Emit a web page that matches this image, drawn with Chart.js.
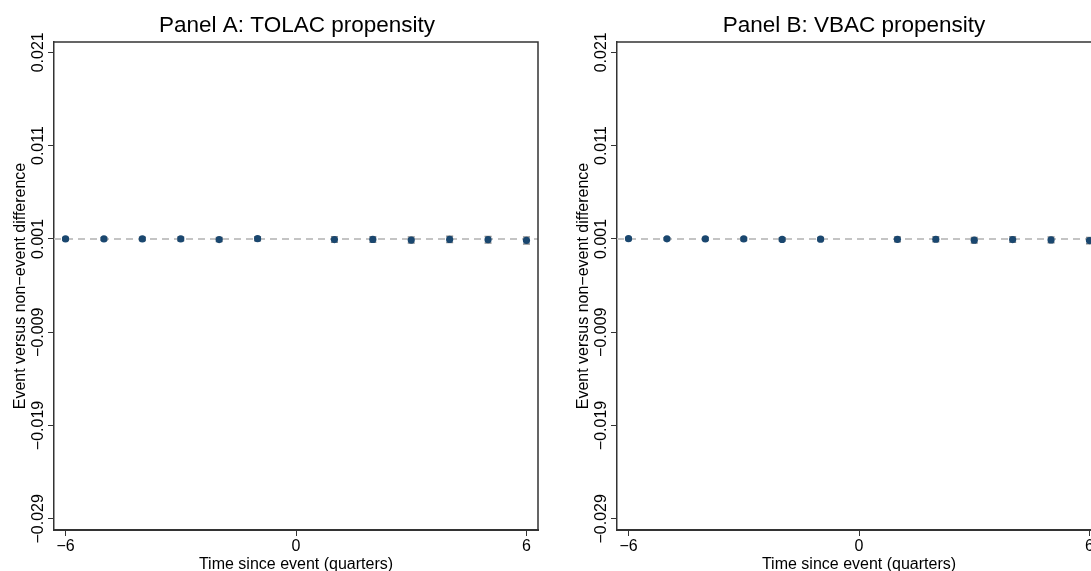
<!DOCTYPE html>
<html>
<head>
<meta charset="utf-8">
<script src="https://cdn.jsdelivr.net/npm/chart.js@4/dist/chart.umd.min.js"></script>
<style>
  html, body { margin: 0; padding: 0; background: #fff; }
  #wrap { position: relative; width: 1091px; height: 571px; overflow: hidden; background: #fff; }
  canvas { position: absolute; top: 0; }
  #panelA { left: 0; }
  #panelB { left: 560px; }
</style>
</head>
<body>
<div id="wrap">
  <canvas id="panelA" width="560" height="571"></canvas>
  <canvas id="panelB" width="560" height="571"></canvas>
</div>
<script>
// quarters relative to the event (0 is left out)
const quarters = [-6, -5, -4, -3, -2, -1, 1, 2, 3, 4, 5, 6];

// Panel A: TOLAC propensity
const tolacEst = [0.00100, 0.00099, 0.00100, 0.00099, 0.00093, 0.00102, 0.00093, 0.00094, 0.00087, 0.00094, 0.00091, 0.00083];
const tolacLo  = [0.00085, 0.00084, 0.00083, 0.00079, 0.00071, 0.00080, 0.00063, 0.00064, 0.00055, 0.00061, 0.00056, 0.00045];
const tolacHi  = [0.00115, 0.00114, 0.00117, 0.00119, 0.00115, 0.00124, 0.00123, 0.00124, 0.00119, 0.00127, 0.00126, 0.00121];

// Panel B: VBAC propensity
const vbacEst = [0.00102, 0.00101, 0.00100, 0.00099, 0.00094, 0.00097, 0.00095, 0.00096, 0.00086, 0.00093, 0.00089, 0.00082];
const vbacLo  = [0.00090, 0.00089, 0.00086, 0.00083, 0.00076, 0.00079, 0.00069, 0.00069, 0.00057, 0.00063, 0.00058, 0.00048];
const vbacHi  = [0.00114, 0.00113, 0.00114, 0.00115, 0.00112, 0.00115, 0.00121, 0.00123, 0.00115, 0.00123, 0.00120, 0.00116];

const yTickValues = [-0.029, -0.019, -0.009, 0.001, 0.011, 0.021];
const xTickValues = [-6, 0, 6];
const refLine = 0.001;

const FONT = "'Liberation Sans', Arial, Helvetica, sans-serif";
const MARKER = "#1a476f";

function minus(s) { return String(s).replace("-", "\u2212"); }

// text, frame, reference line and whiskers drawn around the scatter
const panelDecor = {
  id: "panelDecor",
  beforeDatasetsDraw(chart) {
    const c = chart.ctx, a = chart.chartArea;
    const xs = chart.scales.x, ys = chart.scales.y;
    const cfg = chart.options.plugins.panelDecor;

    // dashed reference line
    const yr = ys.getPixelForValue(refLine);
    c.save();
    c.strokeStyle = "#c4c4c4";
    c.lineWidth = 2;
    c.setLineDash([7, 5]);
    c.beginPath();
    c.moveTo(a.left, yr);
    c.lineTo(a.right, yr);
    c.stroke();
    c.restore();

    // confidence intervals
    c.save();
    c.strokeStyle = "#8c8c8c";
    c.lineWidth = 1.5;
    cfg.lo.forEach((lo, i) => {
      const px = xs.getPixelForValue(quarters[i]);
      const p1 = ys.getPixelForValue(lo);
      const p2 = ys.getPixelForValue(cfg.hi[i]);
      c.beginPath();
      c.moveTo(px, p1); c.lineTo(px, p2);
      c.moveTo(px - 3.5, p1); c.lineTo(px + 3.5, p1);
      c.moveTo(px - 3.5, p2); c.lineTo(px + 3.5, p2);
      c.stroke();
    });
    c.restore();
  },
  afterDraw(chart) {
    const c = chart.ctx, a = chart.chartArea;
    const ys = chart.scales.y;
    const cfg = chart.options.plugins.panelDecor;

    // top and right edges of the plot box
    c.save();
    c.strokeStyle = "#333";
    c.lineWidth = 1.5;
    c.beginPath();
    c.moveTo(a.left, a.top); c.lineTo(a.right, a.top); c.lineTo(a.right, a.bottom);
    c.stroke();
    c.restore();

    c.save();
    c.fillStyle = "#000";

    // panel title
    c.font = "22.5px " + FONT;
    c.textAlign = "center";
    c.textBaseline = "alphabetic";
    c.fillText(cfg.title, cfg.titleX, 32);

    // x axis title
    c.font = "16px " + FONT;
    c.fillText("Time since event (quarters)", (a.left + a.right) / 2, 569);

    // vertical y tick labels
    ys.ticks.forEach(t => {
      const py = ys.getPixelForValue(t.value);
      c.save();
      c.translate(a.left - 11, py);
      c.rotate(-Math.PI / 2);
      c.textAlign = "center";
      c.fillText(minus(t.value.toFixed(3)), 0, 0);
      c.restore();
    });

    // y axis title
    c.save();
    c.translate(a.left - 29, (a.top + a.bottom) / 2);
    c.rotate(-Math.PI / 2);
    c.textAlign = "center";
    c.fillText("Event versus non\u2212event difference", 0, 0);
    c.restore();

    c.restore();
  }
};

function makePanel(id, title, titleX, est, lo, hi, plotLeft, plotRight) {
  const canvas = document.getElementById(id);
  return new Chart(canvas, {
    type: "scatter",
    data: {
      datasets: [{
        data: quarters.map((q, i) => ({ x: q, y: est[i] })),
        backgroundColor: MARKER,
        borderColor: MARKER,
        pointRadius: 3.6,
        pointHoverRadius: 3.6,
        borderWidth: 0
      }]
    },
    options: {
      responsive: false,
      animation: false,
      events: [],
      layout: {
        padding: { top: 42, left: 0, right: canvas.width - plotRight, bottom: 0 }
      },
      plugins: {
        legend: { display: false },
        tooltip: { enabled: false },
        panelDecor: { title: title, titleX: titleX, lo: lo, hi: hi }
      },
      scales: {
        x: {
          type: "linear",
          min: -6.3,
          max: 6.3,
          afterBuildTicks: s => { s.ticks = xTickValues.map(v => ({ value: v })); },
          afterFit: s => { s.height = 41; },
          grid: { drawOnChartArea: false, drawTicks: true, tickLength: 6, color: "#333", lineWidth: 1 },
          border: { display: true, color: "#333", width: 2 },
          ticks: {
            color: "#000",
            padding: 1,
            font: { family: FONT, size: 16 },
            callback: v => minus(v)
          }
        },
        y: {
          type: "linear",
          min: -0.0302,
          max: 0.0221,
          afterBuildTicks: s => { s.ticks = yTickValues.map(v => ({ value: v })); },
          afterFit: s => { s.width = plotLeft; },
          grid: { drawOnChartArea: false, drawTicks: true, tickLength: 6, color: "#333", lineWidth: 1 },
          border: { display: true, color: "#333", width: 1.5 },
          ticks: { display: false }
        }
      }
    },
    plugins: [panelDecor]
  });
}

makePanel("panelA", "Panel A: TOLAC propensity", 297, tolacEst, tolacLo, tolacHi, 54, 538);
makePanel("panelB", "Panel B: VBAC propensity", 294, vbacEst, vbacLo, vbacHi, 57, 541);
</script>
</body>
</html>
